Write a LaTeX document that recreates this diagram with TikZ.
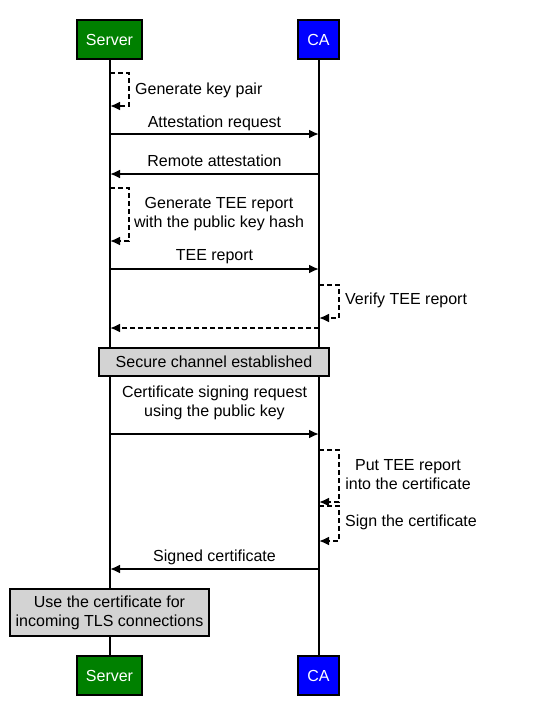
\documentclass[tikz,border=0pt]{standalone}
\usepackage{fontspec}
\setmainfont{Liberation Sans}
\usetikzlibrary{arrows.meta}
\definecolor{srvgreen}{RGB}{0,128,0}
\definecolor{cablue}{RGB}{0,0,255}
\definecolor{notegray}{RGB}{211,211,211}
\tikzset{
  actor/.style={draw=black,line width=2pt,text=white,minimum height=39pt,inner sep=0pt,font=\fontsize{16}{19}\selectfont},
  lifeline/.style={line width=2pt},
  msg/.style={line width=2pt,-{Latex[length=10pt,width=9pt]}},
  selfmsg/.style={line width=2pt,dash pattern=on 5pt off 3pt,-{Latex[length=10pt,width=9pt]}},
  lbl/.style={font=\fontsize{16}{19}\selectfont,inner sep=0pt,align=center},
  note/.style={draw=black,fill=notegray,line width=2pt,font=\fontsize{16}{19}\selectfont,align=center,inner sep=0pt}
}
\begin{document}
\begin{tikzpicture}[x=1pt,y=-1pt]
\useasboundingbox (0,0) rectangle (542,715);
% actors
\node[actor,fill=srvgreen,minimum width=65pt] (stop) at (109.5,39.5) {Server};
\node[actor,fill=cablue,minimum width=41pt] (ctop) at (318.5,39.5) {CA};
\node[actor,fill=srvgreen,minimum width=65pt] (sbot) at (109.5,675.5) {Server};
\node[actor,fill=cablue,minimum width=41pt] (cbot) at (318.5,675.5) {CA};
% lifelines
\draw[lifeline] (stop.south) -- (sbot.north);
\draw[lifeline] (ctop.south) -- (cbot.north);
% notes (drawn over lifelines)
\node[note,minimum width=230pt,minimum height=28pt] (secure) at (214,362) {Secure channel established};
\node[note,minimum width=199pt,minimum height=47pt] (use) at (109.5,612.5) {Use the certificate for\\incoming TLS connections};
% coordinates on lifelines
\coordinate (k1) at (110,73); \coordinate (k2) at (110,106);
\coordinate (ar1) at (110,134); \coordinate (ar2) at (319,134);
\coordinate (ra1) at (319,174); \coordinate (ra2) at (110,174);
\coordinate (g1) at (110,188); \coordinate (g2) at (110,241);
\coordinate (te1) at (110,269); \coordinate (te2) at (319,269);
\coordinate (v1) at (319,285); \coordinate (v2) at (319,318);
\coordinate (d1) at (319,328); \coordinate (d2) at (110,328);
\coordinate (cs1) at (110,434); \coordinate (cs2) at (319,434);
\coordinate (p1) at (319,450); \coordinate (p2) at (319,502);
\coordinate (sg1) at (319,506); \coordinate (sg2) at (319,541);
\coordinate (sc1) at (319,569); \coordinate (sc2) at (110,569);
% messages
\draw[selfmsg] (k1) -- ++(19,0) |- (k2);
\node[lbl,anchor=west] (lk) at (135,90) {Generate key pair};
\draw[msg] (ar1) -- (ar2);
\node[lbl] (lar) at (214.5,123) {Attestation request};
\draw[msg] (ra1) -- (ra2);
\node[lbl] (lra) at (214.5,161) {Remote attestation};
\draw[selfmsg] (g1) -- ++(19,0) |- (g2);
\node[lbl] (lg) at (219,214) {Generate TEE report\\with the public key hash};
\draw[msg] (te1) -- (te2);
\node[lbl] (lte) at (214.5,257) {TEE report};
\draw[selfmsg] (v1) -- ++(20,0) |- (v2);
\node[lbl,anchor=west] (lv) at (345,300) {Verify TEE report};
\draw[selfmsg] (d1) -- (d2);
\node[lbl] (lcs) at (214.5,403) {Certificate signing request\\using the public key};
\draw[msg] (cs1) -- (cs2);
\draw[selfmsg] (p1) -- ++(20,0) |- (p2);
\node[lbl] (lp) at (408,475) {Put TEE report\\into the certificate};
\draw[selfmsg] (sg1) -- ++(20,0) |- (sg2);
\node[lbl,anchor=west] (lsg) at (345,522) {Sign the certificate};
\draw[msg] (sc1) -- (sc2);
\node[lbl] (lsc) at (214.5,557) {Signed certificate};
\end{tikzpicture}
\end{document}
